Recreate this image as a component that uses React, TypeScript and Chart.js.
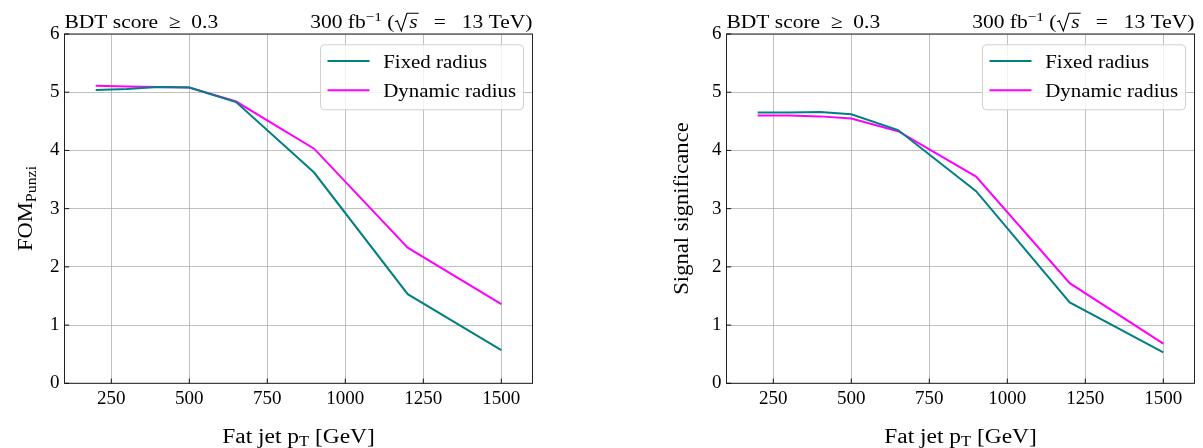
import React, { useEffect, useRef } from "react";
import { Chart, registerables } from "chart.js";

Chart.register(...registerables);

// ---------------- data ----------------
const ptBins = [200, 300, 400, 500, 650, 900, 1200, 1500];
const fomFixed = [5.04, 5.055, 5.09, 5.08, 4.83, 3.62, 1.53, 0.57];
const fomDynamic = [5.11, 5.1, 5.09, 5.08, 4.84, 4.03, 2.33, 1.36];
const sigFixed = [4.65, 4.65, 4.66, 4.62, 4.35, 3.3, 1.39, 0.53];
const sigDynamic = [4.6, 4.6, 4.585, 4.55, 4.33, 3.55, 1.72, 0.68];
const xTickValues = [250, 500, 750, 1000, 1250, 1500];
const yTickValues = [0, 1, 2, 3, 4, 5, 6];
const seriesLabels = ["Fixed radius", "Dynamic radius"];
const seriesColors = ["#008080", "#ff00ff"];
const titleLeft = "BDT score  \u2265  0.3";
const xTitleMain = "Fat jet p";
const xTitleSub = "T";
const xTitleTail = " [GeV]";

const FONT = "'Liberation Serif', 'Times New Roman', serif";
const FS = 19;
const LFS = 21.3;
const H = 448;
const CHART_TOP = 34;
const CHART_BOTTOM = 383.3;

type Part = { text: string; size: number; dy?: number; italic?: boolean; sqrt?: boolean };

function fontOf(p: Part) {
  return `${p.italic ? "italic " : ""}${p.size}px ${FONT}`;
}

function measureParts(ctx: CanvasRenderingContext2D, parts: Part[], sx = 1) {
  let w = 0;
  for (const p of parts) {
    ctx.font = fontOf(p);
    w += ctx.measureText(p.text).width + (p.sqrt ? 13 : 0);
  }
  return w * sx;
}

function drawParts(ctx: CanvasRenderingContext2D, parts: Part[], x: number, y: number, sx = 1) {
  ctx.save();
  ctx.translate(x, y);
  ctx.scale(sx, 1);
  let cx = 0;
  ctx.textBaseline = "alphabetic";
  ctx.textAlign = "left";
  for (const p of parts) {
    ctx.font = fontOf(p);
    const w = ctx.measureText(p.text).width;
    if (p.sqrt) {
      ctx.save();
      ctx.strokeStyle = "#000";
      ctx.lineWidth = 1;
      ctx.beginPath();
      ctx.moveTo(cx + 0.5, -6.5);
      ctx.lineTo(cx + 2.5, -7.5);
      ctx.lineTo(cx + 6, 2.5);
      ctx.lineTo(cx + 11, -15);
      ctx.lineTo(cx + 13 + w + 1, -15);
      ctx.stroke();
      ctx.restore();
      cx += 13;
    }
    ctx.fillStyle = "#000";
    ctx.fillText(p.text, cx, p.dy || 0);
    cx += w;
  }
  ctx.restore();
}

const titleRightParts: Part[] = [
  { text: "300 fb", size: FS },
  { text: "\u22121", size: 13.5, dy: -7.5 },
  { text: " (", size: FS },
  { text: "s", size: FS, italic: true, sqrt: true },
  { text: "   =   13 TeV)", size: FS },
];

type PanelProps = {
  width: number;
  chartLeft: number;
  chartRight: number;
  yTitleMain: string;
  yTitleSub: string;
  yTitleX: number;
  yTitleY: number;
  fixed: number[];
  dynamic: number[];
};

const panelPlugin = {
  id: "panelDecor",
  afterDraw(chart: any) {
    const o = chart.options.plugins.panelDecor as PanelProps;
    const ctx: CanvasRenderingContext2D = chart.ctx;
    const a = chart.chartArea;
    const xs = chart.scales.x;
    const ys = chart.scales.y;
    ctx.save();
    // spines
    ctx.strokeStyle = "#222";
    ctx.lineWidth = 1;
    ctx.strokeRect(a.left, a.top, a.right - a.left, a.bottom - a.top);
    // inward ticks
    ctx.strokeStyle = "#000";
    ctx.lineWidth = 0.9;
    ctx.beginPath();
    for (const v of xTickValues) {
      const px = xs.getPixelForValue(v);
      ctx.moveTo(px, a.bottom);
      ctx.lineTo(px, a.bottom - 4.7);
    }
    for (const v of yTickValues) {
      const py = ys.getPixelForValue(v);
      ctx.moveTo(a.left, py);
      ctx.lineTo(a.left + 4.7, py);
    }
    ctx.stroke();

    // titles above plot
    const TSX = 1.13;
    drawParts(ctx, [{ text: titleLeft, size: FS }], a.left, 28.3, TSX);
    const rw = measureParts(ctx, titleRightParts, TSX);
    drawParts(ctx, titleRightParts, a.right - rw, 28.3, TSX);

    // x axis title
    const xParts: Part[] = [
      { text: xTitleMain, size: LFS },
      { text: xTitleSub, size: 15, dy: 3.8 },
      { text: xTitleTail, size: LFS },
    ];
    const XSX = 1.1;
    const xw = measureParts(ctx, xParts, XSX);
    drawParts(ctx, xParts, (a.left + a.right) / 2 - xw / 2, 442.5, XSX);

    // y axis title (rotated)
    const yParts: Part[] = [{ text: o.yTitleMain, size: LFS }];
    if (o.yTitleSub) yParts.push({ text: o.yTitleSub, size: 15, dy: 3.8 });
    const YSX = 1.06;
    const yw = measureParts(ctx, yParts, YSX);
    ctx.translate(o.yTitleX, o.yTitleY);
    ctx.rotate(-Math.PI / 2);
    drawParts(ctx, yParts, -yw / 2, 0, YSX);
    ctx.restore();

    // legend
    ctx.save();
    const bw = 203;
    const bh = 65;
    const bx = a.right - 9 - bw;
    const by = a.top + 10.8;
    ctx.fillStyle = "rgba(255,255,255,0.8)";
    ctx.strokeStyle = "#d0d0d0";
    ctx.lineWidth = 1;
    ctx.beginPath();
    (ctx as any).roundRect(bx, by, bw, bh, 4);
    ctx.fill();
    ctx.stroke();
    chart.data.datasets.forEach((ds: any, i: number) => {
      const ly = by + 16.2 + i * 29.3;
      ctx.strokeStyle = ds.borderColor;
      ctx.lineWidth = 2;
      ctx.beginPath();
      ctx.moveTo(bx + 7, ly);
      ctx.lineTo(bx + 49, ly);
      ctx.stroke();
      drawParts(ctx, [{ text: ds.label, size: FS }], bx + 62.7, ly + 6.5, 1.1);
    });
    ctx.restore();
  },
};

function Panel(props: PanelProps & { left: number }) {
  const ref = useRef<HTMLCanvasElement>(null);
  useEffect(() => {
    if (!ref.current) return;
    const p = props;
    const chart = new Chart(ref.current, {
      type: "line",
      data: {
        datasets: [
          {
            label: seriesLabels[0],
            data: ptBins.map((x, i) => ({ x, y: p.fixed[i] })),
            borderColor: seriesColors[0],
            backgroundColor: seriesColors[0],
            borderWidth: 2,
            pointRadius: 0,
            tension: 0,
          },
          {
            label: seriesLabels[1],
            data: ptBins.map((x, i) => ({ x, y: p.dynamic[i] })),
            borderColor: seriesColors[1],
            backgroundColor: seriesColors[1],
            borderWidth: 2,
            pointRadius: 0,
            tension: 0,
          },
        ],
      },
      options: {
        animation: false,
        responsive: false,
        maintainAspectRatio: false,
        layout: { padding: { left: 0, right: p.width - p.chartRight, top: CHART_TOP, bottom: 0 } },
        plugins: {
          legend: { display: false },
          tooltip: { enabled: false },
          title: { display: false },
          panelDecor: p,
        } as any,
        scales: {
          x: {
            type: "linear",
            min: 100,
            max: 1600,
            afterBuildTicks: (s: any) => {
              s.ticks = xTickValues.map((v) => ({ value: v }));
            },
            afterFit: (s: any) => {
              s.height = H - CHART_BOTTOM;
            },
            grid: { color: "#b0b0b0", lineWidth: 0.8, drawTicks: false },
            border: { display: false },
            ticks: {
              font: { family: FONT, size: FS },
              color: "#000",
              padding: 4,
              maxRotation: 0,
              autoSkip: false,
              callback: (v: any) => String(v),
            },
          },
          y: {
            type: "linear",
            min: 0,
            max: 6,
            afterBuildTicks: (s: any) => {
              s.ticks = yTickValues.map((v) => ({ value: v }));
            },
            afterFit: (s: any) => {
              s.width = p.chartLeft;
            },
            grid: { color: "#b0b0b0", lineWidth: 0.8, drawTicks: false },
            border: { display: false },
            ticks: {
              font: { family: FONT, size: FS },
              color: "#000",
              padding: 5,
              autoSkip: false,
              callback: (v: any) => String(v),
            },
          },
        },
      },
      plugins: [panelPlugin],
    });
    return () => chart.destroy();
  }, []);
  return (
    <canvas
      ref={ref}
      width={props.width}
      height={H}
      style={{ position: "absolute", left: props.left, top: 0, width: props.width, height: H }}
    />
  );
}

export default function App() {
  return (
    <div style={{ position: "fixed", left: 0, top: 0, width: 1203, height: H, background: "#fff" }}>
      <Panel
        left={0}
        width={600}
        chartLeft={64.5}
        chartRight={532.5}
        yTitleMain="FOM"
        yTitleSub="Punzi"
        yTitleX={32}
        yTitleY={208.5}
        fixed={fomFixed}
        dynamic={fomDynamic}
      />
      <Panel
        left={600}
        width={603}
        chartLeft={126.5}
        chartRight={594.5}
        yTitleMain="Signal significance"
        yTitleSub=""
        yTitleX={88.3}
        yTitleY={208.5}
        fixed={sigFixed}
        dynamic={sigDynamic}
      />
    </div>
  );
}
